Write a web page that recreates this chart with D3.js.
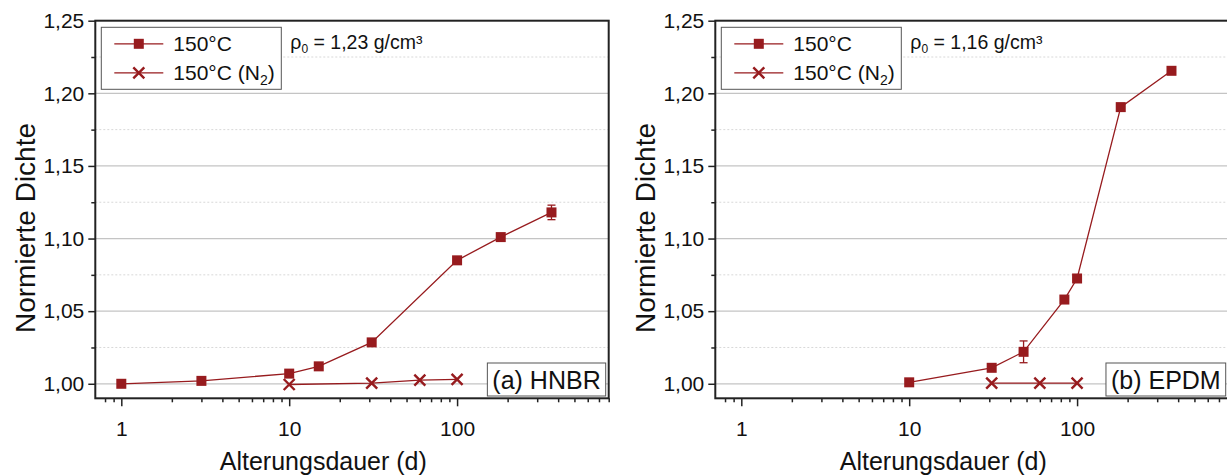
<!DOCTYPE html>
<html><head><meta charset="utf-8">
<script src="https://cdn.jsdelivr.net/npm/d3@7"></script>
<style>body{margin:0;background:#fff}svg{display:block;font-family:"Liberation Sans",Arial,sans-serif}</style>
</head><body><svg id="c" width="1227" height="475"></svg>
<script>
// ---- data ----
const hnbrAirX = [1, 3, 10, 15, 31, 100, 182, 365];
const hnbrAirY = [1.000, 1.002, 1.007, 1.012, 1.0285, 1.085, 1.101, 1.118];
const hnbrAirErr = [0, 0, 0, 0, 0, 0, 0, 0.005];
const hnbrN2X = [10, 31, 60, 100];
const hnbrN2Y = [0.9995, 1.0005, 1.0025, 1.003];
const epdmAirX = [10, 31, 48, 84, 100, 182, 365];
const epdmAirY = [1.001, 1.011, 1.022, 1.058, 1.0725, 1.1905, 1.2155];
const epdmAirErr = [0, 0, 0.0075, 0, 0, 0, 0];
const epdmN2X = [31, 60, 100];
const epdmN2Y = [1.0005, 1.0005, 1.0005];
const yMajor = [1.00, 1.05, 1.10, 1.15, 1.20, 1.25];
const yMinor = [1.025, 1.075, 1.125, 1.175, 1.225];
const xMajor = [1, 10, 100];
const xMinor = [0.8, 0.9, 2, 3, 4, 5, 6, 7, 8, 9, 20, 30, 40, 50, 60, 70, 80, 90, 200, 300, 400, 500, 600, 700, 800];
const legendLabels = ["150°C", "150°C (N₂)"];
const xTitle = "Alterungsdauer (d)";
const yTitle = "Normierte Dichte";

const panels = [
  {x0: 95.3, airX: hnbrAirX, airY: hnbrAirY, err: hnbrAirErr, n2X: hnbrN2X, n2Y: hnbrN2Y, rho: "1,23", tag: "(a) HNBR"},
  {x0: 715.3, airX: epdmAirX, airY: epdmAirY, err: epdmAirErr, n2X: epdmN2X, n2Y: epdmN2Y, rho: "1,16", tag: "(b) EPDM"}
];

const svg = d3.select("#c");
svg.append("rect").attr("width", 1227).attr("height", 475).attr("fill", "#fff");
const W = 513.4, plotTop = 20.7, plotBottom = 398.3;
const red = "#971b1e";
const fmt = d => d3.format(".2f")(d).replace(".", ",");

panels.forEach(p => {
  const g = svg.append("g").attr("transform", `translate(${p.x0},0)`);
  const x = d3.scaleLog().domain([0.7, 800]).range([0, W]);
  const y = d3.scaleLinear().domain([0.99, 1.25]).range([plotBottom, plotTop]);

  // grid
  g.selectAll(".gmin").data(yMinor).join("line")
    .attr("x1", 0).attr("x2", W).attr("y1", d => y(d)).attr("y2", d => y(d))
    .attr("stroke", "#d8d8d8").attr("stroke-width", 1).attr("stroke-dasharray", "2,2");
  g.selectAll(".gmaj").data(yMajor.slice(0, 5)).join("line")
    .attr("x1", 0).attr("x2", W).attr("y1", d => y(d)).attr("y2", d => y(d))
    .attr("stroke", "#c4c4c4").attr("stroke-width", 1.2);

  // axes
  const yAx = g.append("g").call(d3.axisLeft(y).tickValues(yMajor).tickFormat(fmt).tickSize(7).tickPadding(4));
  const yAxMin = g.append("g").call(d3.axisLeft(y).tickValues(yMinor).tickFormat("").tickSize(4));
  const xAx = g.append("g").attr("transform", `translate(0,${plotBottom})`)
    .call(d3.axisBottom(x).tickValues(xMajor).tickFormat(d3.format("d")).tickSize(8).tickPadding(15));
  const xAxMin = g.append("g").attr("transform", `translate(0,${plotBottom})`)
    .call(d3.axisBottom(x).tickValues(xMinor).tickFormat("").tickSize(4));
  [yAx, yAxMin, xAx, xAxMin].forEach(a => {
    a.select(".domain").remove();
    a.selectAll("line").attr("stroke", "#222").attr("stroke-width", 1.5);
    a.selectAll("text").attr("font-size", 21).attr("fill", "#111").attr("font-family", '"Liberation Sans",Arial,sans-serif');
  });
  // frame
  g.append("rect").attr("x", 0).attr("y", plotTop).attr("width", W).attr("height", plotBottom - plotTop)
    .attr("fill", "none").attr("stroke", "#222").attr("stroke-width", 2);

  const line = d3.line().x(d => x(d[0])).y(d => y(d[1]));
  const air = p.airX.map((v, i) => [v, p.airY[i], p.err[i]]);
  const n2 = p.n2X.map((v, i) => [v, p.n2Y[i]]);
  g.append("path").attr("d", line(n2)).attr("fill", "none").attr("stroke", red).attr("stroke-width", 1.3);
  g.append("path").attr("d", line(air)).attr("fill", "none").attr("stroke", red).attr("stroke-width", 1.3);
  // error bars
  air.filter(d => d[2] > 0).forEach(d => {
    const xx = x(d[0]), y1 = y(d[1] - d[2]), y2 = y(d[1] + d[2]);
    g.append("line").attr("x1", xx).attr("x2", xx).attr("y1", y1).attr("y2", y2).attr("stroke", red).attr("stroke-width", 1.3);
    [y1, y2].forEach(yy => g.append("line").attr("x1", xx - 4).attr("x2", xx + 4).attr("y1", yy).attr("y2", yy).attr("stroke", red).attr("stroke-width", 1.3));
  });
  const sq = 10;
  g.selectAll(".sq").data(air).join("rect")
    .attr("x", d => x(d[0]) - sq / 2).attr("y", d => y(d[1]) - sq / 2)
    .attr("width", sq).attr("height", sq).attr("fill", red);
  const cr = 5.5;
  n2.forEach(d => {
    const cx = x(d[0]), cy = y(d[1]);
    g.append("path").attr("d", `M${cx - cr},${cy - cr}L${cx + cr},${cy + cr}M${cx - cr},${cy + cr}L${cx + cr},${cy - cr}`)
      .attr("stroke", red).attr("stroke-width", 2.4).attr("fill", "none");
  });

  // legend
  const lg = g.append("g").attr("transform", "translate(6,27.3)");
  lg.append("rect").attr("x", 0).attr("y", 0).attr("width", 180).attr("height", 62)
    .attr("fill", "#fff").attr("stroke", "#555").attr("stroke-width", 1);
  [0, 1].forEach(i => {
    const ly = 16.5 + i * 29;
    lg.append("line").attr("x1", 13).attr("x2", 62).attr("y1", ly).attr("y2", ly).attr("stroke", red).attr("stroke-width", 1.3);
    if (i === 0) lg.append("rect").attr("x", 37.5 - 5).attr("y", ly - 5).attr("width", 10).attr("height", 10).attr("fill", red);
    else lg.append("path").attr("d", `M${37.5 - cr},${ly - cr}L${37.5 + cr},${ly + cr}M${37.5 - cr},${ly + cr}L${37.5 + cr},${ly - cr}`)
      .attr("stroke", red).attr("stroke-width", 2.4);
    const t = lg.append("text").attr("x", 72).attr("y", ly + 7.5).attr("font-size", 21).attr("fill", "#111");
    if (i === 0) t.text(legendLabels[0]);
    else {
      t.append("tspan").text("150°C (N");
      t.append("tspan").attr("font-size", 14).attr("dy", 5).text("2");
      t.append("tspan").attr("dy", -5).text(")");
    }
  });
  // rho annotation
  const rt = g.append("text").attr("x", 195).attr("y", 49).attr("font-size", 19.5).attr("fill", "#111");
  rt.append("tspan").text("ρ");
  rt.append("tspan").attr("font-size", 12).attr("dy", 4).text("0");
  rt.append("tspan").attr("dy", -4).text(` = ${p.rho} g/cm³`);

  // tag box
  const tg = g.append("g");
  const tt = tg.append("text").attr("font-size", 25).attr("fill", "#111").text(p.tag);
  const bw = tt.node().getComputedTextLength();
  const bx = W - 3 - bw - 10;
  tg.append("rect").attr("x", bx).attr("y", 363).attr("width", bw + 10).attr("height", 33)
    .attr("fill", "#fff").attr("stroke", "#555").attr("stroke-width", 1);
  tt.raise().attr("x", bx + 5).attr("y", 389);

  // titles
  g.append("text").attr("x", 228).attr("y", 470).attr("text-anchor", "middle").attr("font-size", 25).attr("fill", "#111").text(xTitle);
  g.append("text").attr("transform", `translate(-60,${228}) rotate(-90)`).attr("text-anchor", "middle")
    .attr("font-size", 28).attr("fill", "#111").text(yTitle);
});
</script></body></html>
